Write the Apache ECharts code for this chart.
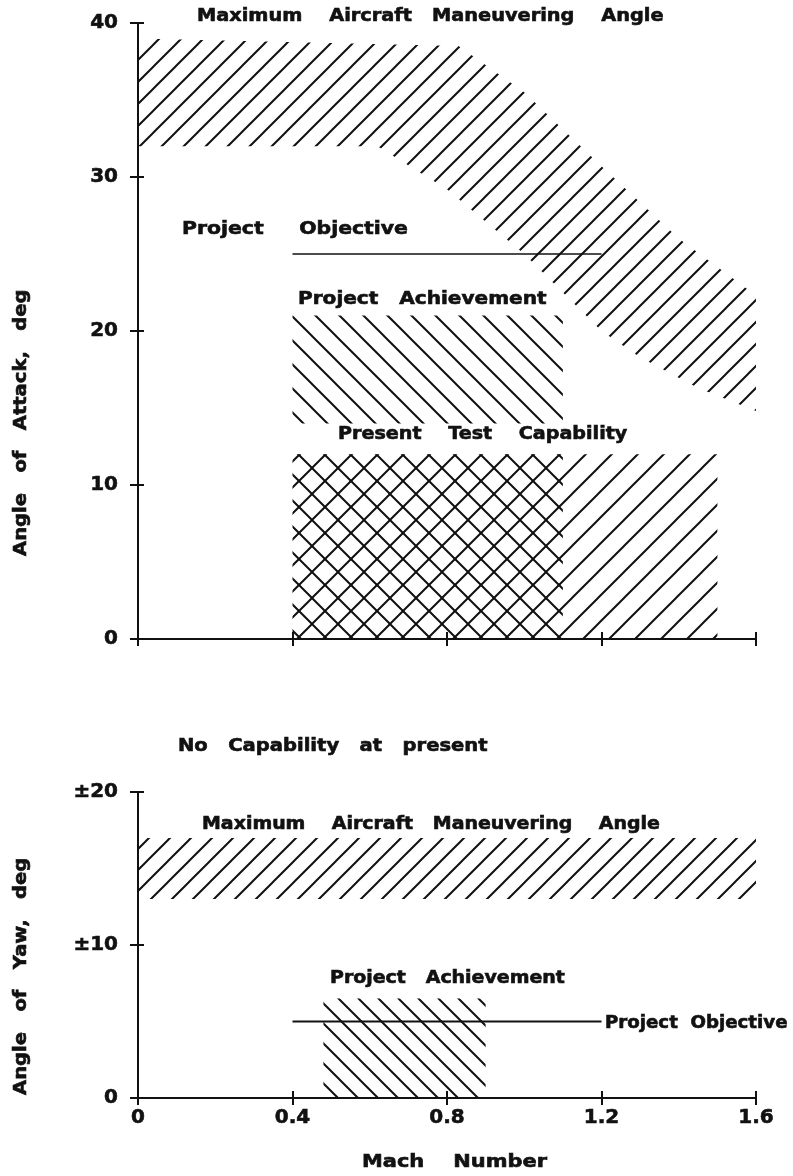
<!DOCTYPE html>
<html><head><meta charset="utf-8">
<script src="https://cdn.jsdelivr.net/npm/echarts@6/dist/echarts.min.js"></script>
<style>html,body{margin:0;padding:0;background:#fff}#c{width:793px;height:1176px}</style>
</head><body><div id="c"></div>
<script>
// ---------------- data ----------------
const machTicks = [0, 0.4, 0.8, 1.2, 1.6];
const machTickLabels = ['0', '0.4', '0.8', '1.2', '1.6'];
const attackTicks = [0, 10, 20, 30, 40];
const yawTicks = [0, 10, 20];
const yawTickLabels = ['0', '±10', '±20'];
// Maximum aircraft maneuvering angle (angle of attack) band: [Mach, deg]
const maxAttackUpper = [[0, 39], [0.83, 38.5], [1.0, 35.5], [1.2, 30.7], [1.4, 26.0], [1.6, 22.3]];
const maxAttackLower = [[0, 32], [0.62, 32], [0.8, 29.2], [1.0, 25.0], [1.2, 20.0], [1.3, 18.3], [1.45, 16.3], [1.6, 14.8]];
// Project objective line (attack)
const objectiveAttack = [[0.4, 25], [1.2, 25]];
// rectangles: [mach0, mach1, deg0, deg1]
const achievementAttackUpper = [0.4, 1.1, 14, 21];
const achievementAttackLower = [0.4, 1.1, 0, 12];
const testCapabilityAttack = [0.4, 1.5, 0, 12];
// Yaw panel
const maxYaw = [0, 1.6, 13, 17];
const objectiveYaw = [[0.4, 5], [1.2, 5]];
const achievementYaw = [0.48, 0.9, 0, 6.5];

// ---------------- helpers ----------------
const INK = '#111';
const FONT = '"DejaVu Sans", sans-serif';

function hatch(d, dir, lw) {
  const c = document.createElement('canvas');
  c.width = d; c.height = d;
  const g = c.getContext('2d');
  g.strokeStyle = INK; g.lineWidth = lw;
  g.beginPath();
  for (const k of [-1, 0, 1, 2]) {
    const cc = k * d;
    if (dir === '/') { g.moveTo(-5, cc + 5); g.lineTo(cc + 5, -5); }
    else { g.moveTo(-5, cc - 5); g.lineTo(d + 5, cc + d + 5); }
  }
  g.stroke();
  return { image: c, repeat: 'repeat' };
}
function rectPts(r) { return [[r[0], r[2]], [r[1], r[2]], [r[1], r[3]], [r[0], r[3]]]; }
function area(pts, fill, xi, yi) {
  return {
    type: 'custom', xAxisIndex: xi, yAxisIndex: yi, silent: true, data: pts,
    encode: { x: 0, y: 1 }, clip: false,
    renderItem: (p, api) => p.dataIndex === 0 ? {
      type: 'polygon', shape: { points: pts.map(q => api.coord(q)) },
      style: { fill: fill, stroke: null }
    } : null
  };
}
function line(pts, xi, yi, w) {
  return { type: 'line', xAxisIndex: xi, yAxisIndex: yi, data: pts, symbol: 'none', silent: true,
    lineStyle: { color: INK, width: w }, z: 5 };
}
const lineStyle = { color: INK, width: 2 };
const tickLabel = { color: INK, fontFamily: FONT, fontWeight: 'bold', fontSize: 20,
  textBorderColor: INK, textBorderWidth: 0.6 };
function xAx(grid, inside, labels) {
  return {
    type: 'value', gridIndex: grid, position: 'bottom', min: 0, max: 1.6, interval: 0.4,
    axisLine: { show: !inside, lineStyle },
    axisTick: { show: true, inside: inside, length: 7, lineStyle },
    axisLabel: { show: labels && !inside, margin: 10, ...tickLabel,
      formatter: v => machTickLabels[machTicks.indexOf(Math.round(v * 10) / 10)] },
    splitLine: { show: false }
  };
}
function yAx(grid, inside, max, fmt) {
  return {
    type: 'value', gridIndex: grid, position: 'left', min: 0, max: max, interval: 10,
    axisLine: { show: !inside, lineStyle },
    axisTick: { show: true, inside: inside, length: inside ? 6 : 8, lineStyle },
    axisLabel: { show: !inside, margin: 20, ...tickLabel, formatter: fmt },
    splitLine: { show: false }
  };
}
function label(text, x, y, size, sx, rot) {
  return { type: 'text', x: x, y: y, scaleX: sx, rotation: rot || 0, silent: true, z: 10,
    style: { text: text, font: 'bold ' + size + 'px ' + FONT, fill: INK, stroke: INK, lineWidth: 0.6,
      align: 'left', verticalAlign: 'middle' } };
}

// ---------------- chart ----------------
const chart = echarts.init(document.getElementById('c'), null, { renderer: 'canvas' });
const fwd22 = hatch(22, '/', 2);
const back24 = hatch(24, '\\', 2);
const fwd26 = hatch(26, '/', 2);
const back26 = hatch(26, '\\', 2);
const fwd21 = hatch(21, '/', 2);
const back20 = hatch(20, '\\', 2);

chart.setOption({
  animation: false,
  backgroundColor: '#fff',
  grid: [
    { left: 138, top: 23, width: 618, height: 616 },
    { left: 138, top: 792, width: 618, height: 306 }
  ],
  xAxis: [xAx(0, false, false), xAx(0, true, false), xAx(1, false, true), xAx(1, true, false)],
  yAxis: [
    yAx(0, false, 40, v => String(attackTicks[attackTicks.indexOf(v)])),
    yAx(0, true, 40, null),
    yAx(1, false, 20, v => yawTickLabels[yawTicks.indexOf(v)]),
    yAx(1, true, 20, null)
  ],
  series: [
    area(maxAttackUpper.concat(maxAttackLower.slice().reverse()), fwd22, 0, 0),
    area(rectPts(achievementAttackUpper), back24, 0, 0),
    area(rectPts(achievementAttackLower), back26, 0, 0),
    area(rectPts(testCapabilityAttack), fwd26, 0, 0),
    line(objectiveAttack, 0, 0, 1.6),
    area(rectPts(maxYaw), fwd21, 2, 2),
    area(rectPts(achievementYaw), back20, 2, 2),
    line(objectiveYaw, 2, 2, 2)
  ],
  graphic: [
    label('Maximum    Aircraft   Maneuvering    Angle', 197, 17, 17, 1.136),
    label('Project     Objective', 182, 230, 17, 1.2),
    label('Project   Achievement', 298, 300, 17, 1.18),
    label('Present    Test    Capability', 338, 435, 17, 1.125),
    label('No   Capability   at   present', 178, 747, 17, 1.15),
    label('Maximum    Aircraft   Maneuvering    Angle', 202, 825, 17, 1.115),
    label('Project   Achievement', 330, 979, 17, 1.115),
    label('Project  Objective', 605, 1024, 17, 1.07),
    label('Mach    Number', 362, 1163, 17, 1.23),
    label('Angle   of   Attack,   deg', 22, 556, 17, 1.15, Math.PI / 2),
    label('Angle   of   Yaw,   deg', 22, 1095, 17, 1.15, Math.PI / 2)
  ]
});
</script></body></html>
